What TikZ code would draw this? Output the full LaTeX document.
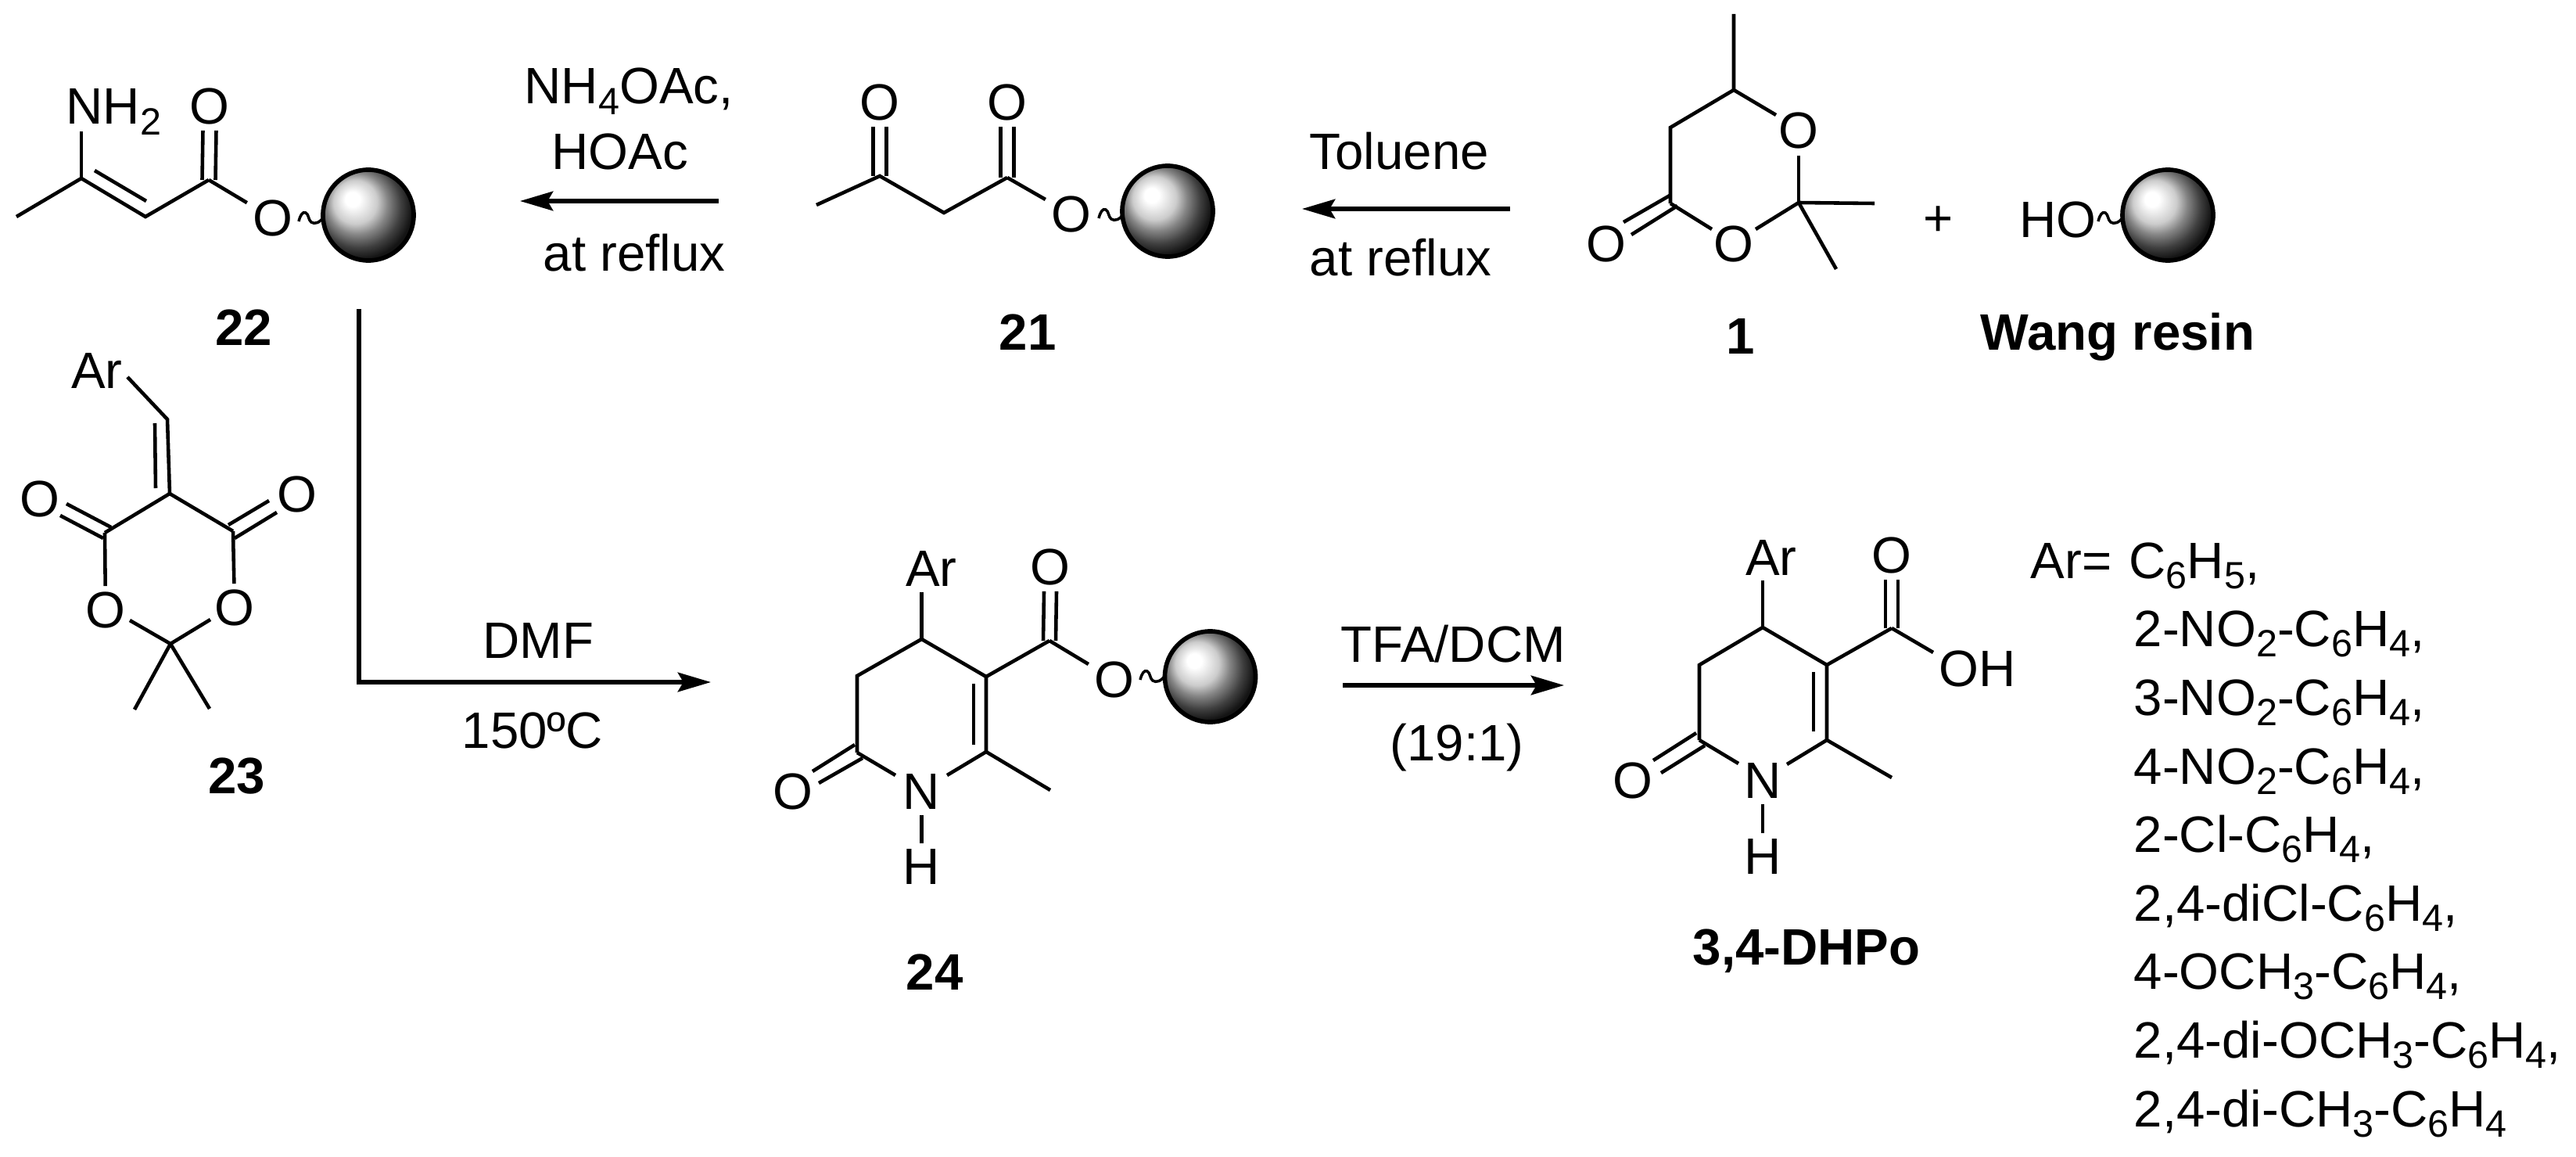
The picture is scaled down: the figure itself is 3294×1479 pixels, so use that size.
\documentclass[tikz,border=0pt]{standalone}
\usepackage{fontspec}
\setmainfont{Liberation Sans}
\usetikzlibrary{arrows.meta,calc}
\pgfdeclareradialshading{resinball}{\pgfpoint{-9.5bp}{9.5bp}}{color(0bp)=(white);color(4bp)=(white);color(12bp)=(black!20);color(17bp)=(black!48);color(23bp)=(black!75);color(28bp)=(black!92);color(50bp)=(black)}
\newcommand{\sbs}[1]{\raisebox{-3.7pt}{\fontsize{13.8}{14}\selectfont #1}}
\tikzset{
  x=0.01cm,y=-0.01cm,
  every node/.style={font=\fontsize{18.6}{20}\selectfont},
  bond/.style={line width=1.3pt,line cap=butt,line join=miter},
  rxn/.style={line width=1.5pt,-{Stealth[length=12pt,width=7pt,inset=2pt]}},
  atom/.style={inner sep=2pt},
  lab/.style={inner sep=0pt,anchor=base},
  labw/.style={inner sep=0pt,anchor=base west},
  num/.style={inner sep=0pt,anchor=base,font=\fontsize{18.6}{20}\selectfont\bfseries},
  resin/.style={circle,draw=black,line width=1.6pt,shade,shading=resinball,minimum size=33pt,inner sep=0pt},
  wave/.pic={\draw[line width=1pt] (0,0) .. controls (2,-8) and (5,-13) .. (9,-11) .. controls (13,-9) and (12,-2) .. (16,1) .. controls (20,4) and (27,2) .. (32,-6);}
}
\begin{document}
\begin{tikzpicture}
\useasboundingbox (0,0) rectangle (3294,1479);
\fill[white] (0,0) rectangle (3294,1479);

% ---------- 22
\coordinate (a1) at (21,277); \coordinate (a2) at (104,228); \coordinate (a3) at (186,277);
\coordinate (a4) at (267,230); \coordinate (a5) at (104,168);
\coordinate (a6) at (121,218); \coordinate (a7) at (187,257);
\node[labw] (nh2) at (84,159) {NH\sbs{2}};
\node[atom] (a-o1) at (268,136) {O};
\node[atom] (a-o2) at (349,279) {O};
\pic at (382,283) {wave};
\node[resin] (a-b) at (471,275) {};
\draw[bond] (a1) -- (a2) -- (a3) -- (a4);
\draw[bond] (a2) -- (a5);
\draw[bond] (a6) -- (a7);
\draw[bond] (a4) -- (a-o2);
\draw[bond] ([shift={(-8.5,0)}]a4) -- ([shift={(-8.5,0)}]a-o1.south);
\draw[bond] ([shift={(8.5,0)}]a4) -- ([shift={(8.5,0)}]a-o1.south);
\node[num] (n22) at (312,441) {22};

% ---------- arrow 21 -> 22
\coordinate (r1s) at (919,257); \coordinate (r1e) at (665,257);
\draw[rxn] (r1s) -- (r1e);
\node[labw] (t1) at (670,133) {NH\sbs{4}OAc,};
\node[labw] (t2) at (705,217) {HOAc};
\node[labw] (t3) at (694,347) {at reflux};

% ---------- 21
\coordinate (b1) at (1044,262); \coordinate (b2) at (1125,225); \coordinate (b3) at (1207,272);
\coordinate (b4) at (1288,227);
\node[atom] (b-o1) at (1125,131) {O};
\node[atom] (b-o2) at (1288,131) {O};
\node[atom] (b-o3) at (1370,274) {O};
\pic at (1405,279) {wave};
\node[resin] (b-b) at (1493,270) {};
\draw[bond] (b1) -- (b2) -- (b3) -- (b4);
\draw[bond] (b4) -- (b-o3);
\draw[bond] ([shift={(-8.5,0)}]b2) -- ([shift={(-8.5,0)}]b-o1.south);
\draw[bond] ([shift={(8.5,0)}]b2) -- ([shift={(8.5,0)}]b-o1.south);
\draw[bond] ([shift={(-8.5,0)}]b4) -- ([shift={(-8.5,0)}]b-o2.south);
\draw[bond] ([shift={(8.5,0)}]b4) -- ([shift={(8.5,0)}]b-o2.south);
\node[num] (n21) at (1314,447) {21};

% ---------- arrow 1 -> 21
\coordinate (r2s) at (1931,267); \coordinate (r2e) at (1665,267);
\draw[rxn] (r2s) -- (r2e);
\node[labw] (t4) at (1674,217) {Toluene};
\node[labw] (t5) at (1674,352) {at reflux};

% ---------- 1
\coordinate (c1) at (2136,163); \coordinate (c2) at (2217,115); \coordinate (c3) at (2217,18);
\coordinate (c4) at (2136,260); \coordinate (c5) at (2300,259);
\coordinate (c6) at (2397,260); \coordinate (c7) at (2348,344);
\coordinate (c8) at (2135,250); \coordinate (c9) at (2076,284);
\coordinate (c10) at (2145,263); \coordinate (c11) at (2086,300);
\node[atom] (c-o1) at (2300,167) {O};
\node[atom] (c-o2) at (2217,312) {O};
\node[atom] (c-o3) at (2054,312) {O};
\draw[bond] (c3) -- (c2) -- (c1) -- (c4);
\draw[bond] (c2) -- (2271,147);
\draw[bond] (2300,199) -- (c5);
\draw[bond] (c5) -- (c6);
\draw[bond] (c5) -- (c7);
\draw[bond] (c5) -- (2245,293);
\draw[bond] (c4) -- (2189,293);
\draw[bond] (c8) -- (c9);
\draw[bond] (c10) -- (c11);
\node[lab] (plus) at (2479,301) {+};
\node[labw] (ho) at (2582,303) {HO};
\pic at (2683,283) {wave};
\node[resin] (w-b) at (2772,275) {};
\node[num] (n1) at (2226,452) {1};
\node[num] (nw) at (2708,447) {Wang resin};

% ---------- 23
\coordinate (d1) at (214,536); \coordinate (d2) at (217,631); \coordinate (d3) at (134,681);
\coordinate (d4) at (298,679); \coordinate (d5) at (218,823); \coordinate (d6) at (172,907);
\coordinate (d7) at (268,906);
\coordinate (d8) at (198,541); \coordinate (d9) at (199,624);
\coordinate (d10) at (85,644); \coordinate (d11) at (142,674);
\coordinate (d12) at (77,659); \coordinate (d13) at (132,688);
\coordinate (d14) at (344,640); \coordinate (d15) at (292,671);
\coordinate (d16) at (354,655); \coordinate (d17) at (300,688);
\node[lab] (d-ar) at (124,496) {Ar};
\node[atom] (d-o1) at (135,780) {O};
\node[atom] (d-o2) at (300,777) {O};
\node[atom] (d-o3) at (51,638) {O};
\node[atom] (d-o4) at (380,632) {O};
\draw[bond] (163,482) -- (d1) -- (d2);
\draw[bond] (d8) -- (d9);
\draw[bond] (d3) -- (d2) -- (d4);
\draw[bond] (d3) -- (d-o1);
\draw[bond] (d4) -- (d-o2);
\draw[bond] (d5) -- (166,793);
\draw[bond] (d5) -- (269,792);
\draw[bond] (d5) -- (d6);
\draw[bond] (d5) -- (d7);
\draw[bond] (d10) -- (d11);
\draw[bond] (d12) -- (d13);
\draw[bond] (d14) -- (d15);
\draw[bond] (d16) -- (d17);
\node[num] (n23) at (303,1014) {23};

% ---------- L arrow
\coordinate (r3s) at (459,395); \coordinate (r3c) at (459,872); \coordinate (r3e) at (909,872);
\draw[rxn,line join=miter] (r3s) -- (r3c) -- (r3e);
\node[labw] (t6) at (617,841) {DMF};
\node[labw] (t7) at (590,956) {150ºC};

% ---------- 24
\coordinate (e1) at (1178.5,817); \coordinate (e2) at (1261,865); \coordinate (e3) at (1096,864);
\coordinate (e4) at (1096,962); \coordinate (e5) at (1261,961); \coordinate (e6) at (1343,1010);
\coordinate (e7) at (1342,819); \coordinate (e8) at (1178.5,757);
\coordinate (e9) at (1245,874); \coordinate (e10) at (1245,952);
\coordinate (e11) at (1093,952); \coordinate (e12) at (1039,986);
\coordinate (e13) at (1103,969); \coordinate (e14) at (1047,1001);
\node[lab] (e-ar) at (1191,749) {Ar};
\node[atom] (e-n) at (1178.5,1012) {N};
\node[atom] (e-h) at (1178.5,1108) {H};
\node[atom] (e-o1) at (1014,1012) {O};
\node[atom] (e-o2) at (1343,725) {O};
\node[atom] (e-o3) at (1425,869) {O};
\pic at (1458,869) {wave};
\node[resin] (e-b) at (1547.5,865) {};
\draw[bond] (e8) -- (e1);
\draw[bond] (e4) -- (e3) -- (e1) -- (e2) -- (e5) -- (e6);
\draw[bond] (e2) -- (e7);
\draw[bond] (e9) -- (e10);
\draw[bond] (e4) -- (1145,991);
\draw[bond] (e5) -- (1211,991);
\draw[bond] (e-n) -- (e-h);
\draw[bond] (e11) -- (e12);
\draw[bond] (e13) -- (e14);
\draw[bond] (e7) -- (e-o3);
\draw[bond] ([shift={(-8,0)}]e7) -- ([shift={(-8,0)}]e-o2.south);
\draw[bond] ([shift={(8,0)}]e7) -- ([shift={(8,0)}]e-o2.south);
\node[num] (n24) at (1195,1265) {24};

% ---------- arrow 24 -> DHPo
\coordinate (r4s) at (1717,876); \coordinate (r4e) at (2000,876);
\draw[rxn] (r4s) -- (r4e);
\node[labw] (t8) at (1714,846) {TFA/DCM};
\node[lab] (t9) at (1863,972) {(19:1)};

% ---------- 3,4-DHPo
\coordinate (f1) at (2254,802); \coordinate (f2) at (2336,850); \coordinate (f3) at (2173,850);
\coordinate (f4) at (2173,946); \coordinate (f5) at (2336,946); \coordinate (f6) at (2419,994);
\coordinate (f7) at (2419,803); \coordinate (f8) at (2254,742);
\coordinate (f9) at (2319,859); \coordinate (f10) at (2319,935);
\coordinate (f11) at (2169,937); \coordinate (f12) at (2114,972);
\coordinate (f13) at (2180,953); \coordinate (f14) at (2124,988);
\node[lab] (f-ar) at (2265,735) {Ar};
\node[atom] (f-n) at (2254,998) {N};
\node[atom] (f-h) at (2254,1095) {H};
\node[atom] (f-o1) at (2088,998) {O};
\node[atom] (f-o2) at (2419,710) {O};
\node[labw] (f-oh) at (2479,877) {OH};
\draw[bond] (f8) -- (f1);
\draw[bond] (f4) -- (f3) -- (f1) -- (f2) -- (f5) -- (f6);
\draw[bond] (f2) -- (f7);
\draw[bond] (f9) -- (f10);
\draw[bond] (f4) -- (2223,976);
\draw[bond] (f5) -- (2285,977);
\draw[bond] (f-n) -- (f-h);
\draw[bond] (f11) -- (f12);
\draw[bond] (f13) -- (f14);
\draw[bond] (f7) -- (2472,834);
\draw[bond] ([shift={(-8,0)}]f7) -- ([shift={(-8,0)}]f-o2.south);
\draw[bond] ([shift={(8,0)}]f7) -- ([shift={(8,0)}]f-o2.south);
\node[num] (n34) at (2310,1233) {3,4-DHPo};

% ---------- Ar list
\node[labw] (l0) at (2596,739) {Ar=};
\node[labw] (l1) at (2722,739) {C\sbs{6}H\sbs{5},};
\node[labw] (l2) at (2728,826) {2-NO\sbs{2}-C\sbs{6}H\sbs{4},};
\node[labw] (l3) at (2728,914) {3-NO\sbs{2}-C\sbs{6}H\sbs{4},};
\node[labw] (l4) at (2728,1002) {4-NO\sbs{2}-C\sbs{6}H\sbs{4},};
\node[labw] (l5) at (2728,1089) {2-Cl-C\sbs{6}H\sbs{4},};
\node[labw] (l6) at (2728,1177) {2,4-diCl-C\sbs{6}H\sbs{4},};
\node[labw] (l7) at (2728,1264) {4-OCH\sbs{3}-C\sbs{6}H\sbs{4},};
\node[labw] (l8) at (2728,1352) {2,4-di-OCH\sbs{3}-C\sbs{6}H\sbs{4},};
\node[labw] (l9) at (2728,1440) {2,4-di-CH\sbs{3}-C\sbs{6}H\sbs{4}};
\end{tikzpicture}
\end{document}
